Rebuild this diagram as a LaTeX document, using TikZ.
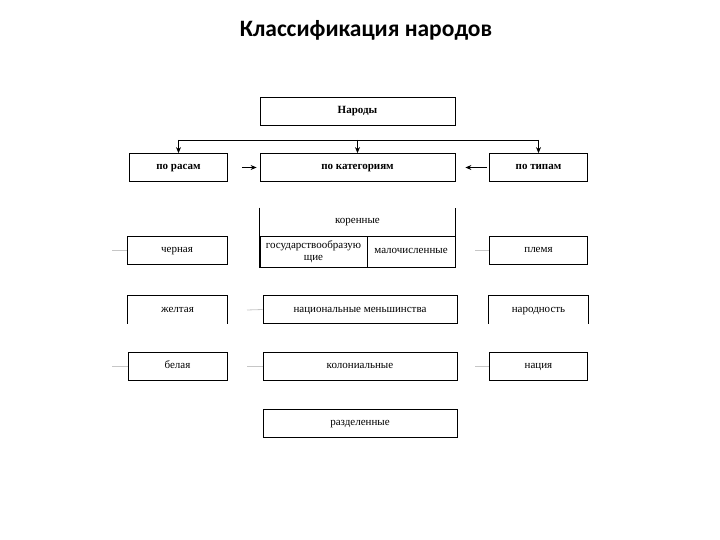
\documentclass[tikz,border=0pt]{standalone}
\usepackage{fontspec}
\setmainfont{Liberation Serif}
\newfontfamily\titlefont{Carlito}
\usetikzlibrary{arrows.meta}
\tikzset{>={Stealth[length=6pt,width=5pt]}}
\tikzset{
  box/.style={draw, line width=0.8pt, inner sep=0pt, minimum height=28pt, align=center, text height=7.5pt, text depth=2.5pt, font=\fontsize{11}{12}\selectfont},
  bigbox/.style={box, minimum width=195pt},
  sidebox/.style={box, minimum width=98pt},
  openbox/.style={box, draw=none},
  stub/.style={gray!45, line width=0.8pt}
}

\begin{document}
\begin{tikzpicture}[x=1pt,y=-1pt]
\useasboundingbox (0,0) rectangle (720,540);
\node (title) at (366,30) {\titlefont\bfseries\fontsize{23.5}{26}\selectfont Классификация народов};
% top row
\node[bigbox, font=\fontsize{11}{12}\selectfont\bfseries] (narody) at (357.5,111) {Народы};
\node[sidebox, font=\fontsize{11}{12}\selectfont\bfseries] (rasy) at (178.5,167.5) {по расам};
\node[bigbox, font=\fontsize{11}{12}\selectfont\bfseries] (kat) at (357.5,167.5) {по категориям};
\node[sidebox, font=\fontsize{11}{12}\selectfont\bfseries] (tipy) at (538.5,167.5) {по типам};
\coordinate (bus) at (0,140);
\draw[line width=0.8pt] (rasy.north |- bus) -- (tipy.north |- bus);
\draw[->, line width=0.8pt] (rasy.north |- bus) -- (rasy.north);
\draw[->, line width=0.8pt] (kat.north |- bus) -- (kat.north);
\draw[->, line width=0.8pt] (tipy.north |- bus) -- (tipy.north);
\draw[->, line width=0.8pt, shorten <=14pt, shorten >=3pt] (rasy.east) -- (kat.west);
\draw[->, line width=0.8pt, shorten <=2pt, shorten >=10pt] (tipy.west) -- (kat.east);
% korennye
\node[openbox, minimum width=195pt, minimum height=59pt] (kor) at (357.5,237.5) {};
\draw[line width=0.8pt] (kor.north west) -- (kor.south west) -- (kor.south east) -- (kor.north east);
\node[font=\fontsize{11}{12}\selectfont] (kortext) at (357.5,222) {коренные};
\node[box, minimum width=107pt, minimum height=31pt, text height=, text depth=] (gos) at (313.5,251.5) {государствообразую\\щие};
\node[box, minimum width=88pt, minimum height=31pt] (malo) at (411,251.5) {малочисленные};
% side columns
\node[sidebox, minimum width=100pt] (cher) at (177,250) {черная};
\node[sidebox] (plem) at (538.5,250) {племя};
\node[openbox, minimum width=99pt] (zhel) at (177.5,309.5) {желтая};
\draw[line width=0.8pt] (zhel.south west) -- (zhel.north west) -- (zhel.north east) -- (zhel.south east);
\node[bigbox, minimum width=194pt] (nacm) at (360,309.5) {национальные меньшинства};
\node[openbox, minimum width=99pt] (narodn) at (538.5,309.5) {народность};
\draw[line width=0.8pt] (narodn.south west) -- (narodn.north west) -- (narodn.north east) -- (narodn.south east);
\node[sidebox, minimum width=99pt] (bel) at (177.5,366) {белая};
\node[bigbox, minimum width=194pt] (kol) at (360,366) {колониальные};
\node[sidebox] (naciya) at (538.5,366) {нация};
\node[bigbox, minimum width=194pt] (razd) at (360,423) {разделенные};
% faint stubs
\coordinate (s1) at (112,250);
\coordinate (s2) at (475,250);
\coordinate (s3) at (247,310);
\coordinate (s4) at (112,366);
\coordinate (s5) at (247,366);
\coordinate (s6) at (475,366);
\draw[stub] (s1) -- (cher.west);
\draw[stub] (s2) -- (plem.west);
\draw[stub] (s3) -- (nacm.west);
\draw[stub] (s4) -- (bel.west);
\draw[stub] (s5) -- (kol.west);
\draw[stub] (s6) -- (naciya.west);
\end{tikzpicture}
\end{document}
